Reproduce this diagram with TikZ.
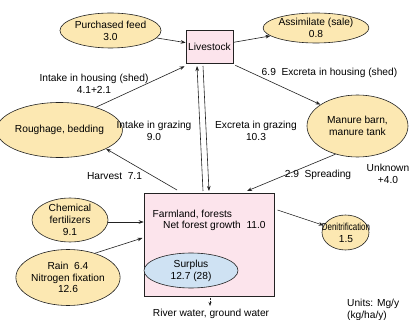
\documentclass[tikz,border=0pt]{standalone}
\usepackage{fontspec}
\setmainfont{Liberation Sans}
\usetikzlibrary{arrows.meta,shapes.geometric,calc}
\definecolor{ellfill}{HTML}{FCE8B2}
\definecolor{boxfill}{HTML}{FCE4EC}
\definecolor{surfill}{HTML}{CFE2F3}
\definecolor{edgecol}{HTML}{222222}
\begin{document}
\begin{tikzpicture}[x=1pt,y=-1pt,
  font=\fontsize{10.2}{11.8}\selectfont,
  ell/.style={ellipse,draw=edgecol,line width=0.6pt,fill=ellfill,inner sep=0pt,align=center},
  boxnode/.style={rectangle,draw=edgecol,line width=0.6pt,fill=boxfill,inner sep=0pt},
  lbl/.style={inner sep=0pt,align=center},
  arr/.style={draw=edgecol,line width=0.6pt,-{Stealth[length=5pt,width=3.6pt]}}]
\useasboundingbox (0,0) rectangle (412,320);
\fill[white] (0,0) rectangle (412,320);

% nodes
\node[boxnode,minimum width=47pt,minimum height=33pt] (livestock) at (209.5,46.5) {Livestock};
\node[ell,minimum width=85pt,minimum height=35pt] (feed) at (110.5,30.5) {Purchased feed\\3.0};
\node[ell,minimum width=88pt,minimum height=30pt] (assim) at (316,28) {Assimilate (sale)\\0.8};
\node[ell,minimum width=105pt,minimum height=55pt] (rough) at (59.5,130) {Roughage, bedding};
\node[ell,minimum width=101pt,minimum height=62pt] (manure) at (357.5,126) {Manure barn,\\manure tank};
\node[ell,minimum width=76pt,minimum height=38pt] (chem) at (70,220) {Chemical\\fertilizers\\9.1};
\node[ell,minimum width=100pt,minimum height=56pt] (rain) at (68,277.5) {Rain\ \ 6.4\\Nitrogen fixation\\12.6};
\node[ell,minimum width=47pt,minimum height=35pt] (denit) at (345.5,232.5) {};
\node[lbl] (denittxt) at (346,232.5) {\scalebox{0.78}[1]{Denitrification}\\1.5};
\node[boxnode,minimum width=130pt,minimum height=103pt] (farm) at (209,244.5) {};
\node[ell,fill=surfill,minimum width=94pt,minimum height=35pt] (surplus) at (191,270.5) {Surplus\\12.7 (28)};

% texts inside farmland
\node[lbl,anchor=west] (farmtxt) at (152.5,214) {Farmland, forests};
\node[lbl,anchor=west] (nettxt) at (163,226) {Net forest growth\ \ 11.0};

% labels
\node[lbl] (lhousing) at (94,84) {Intake in housing (shed)\\4.1+2.1};
\node[lbl] (lgrazing) at (154,131) {Intake in grazing\\9.0};
\node[lbl] (lexh) at (329.5,73) {6.9\ \ Excreta in housing (shed)};
\node[lbl] (lexg) at (256,131) {Excreta in grazing\\10.3};
\node[lbl] (lharv) at (114.5,176) {Harvest\ \ 7.1};
\node[lbl] (lspread) at (318,175) {2.9\ \ Spreading};
\node[lbl] (lunk) at (388,174) {Unknown\\+4.0};
\node[lbl] (lriver) at (211,314) {River water, ground water};
\node[lbl,align=left,anchor=north west] (lunits) at (347,299) {Units: Mg/y\\(kg/ha/y)};

% coordinates
\coordinate (gUp0) at (203,191);
\coordinate (gUp1) at (197,66);
\coordinate (gDn0) at (203,66);
\coordinate (gDn1) at (209,191);
\coordinate (harvS) at (177,190);
\coordinate (spreadE) at (247,191);
\coordinate (rainE) at (142.5,238);
\coordinate (denitS) at (277.5,210);
\coordinate (riverS) at (210,296);
\coordinate (riverE) at (210,306);

% connectors
\draw[arr] (feed) -- (livestock);
\draw[arr] (livestock) -- (assim);
\draw[arr] (rough.32) -- ([shift={(-1,3)}]livestock.south west);
\draw[arr] ([shift={(2,2)}]livestock.south east) -- (manure.150);
\draw[arr] (manure.-128) -- (spreadE);
\draw[arr] (harvS) -- (rough.-22);
\draw[arr] (gUp0) -- (gUp1);
\draw[arr] (gDn0) -- (gDn1);
\draw[arr] ([yshift=-2pt]chem.east) -- ([yshift=-2pt]farm.west |- chem.east);
\draw[arr] (rain.42) -- (rainE);
\draw[arr] (denitS) -- (denit.162);
\draw[draw=edgecol,line width=0.6pt,densely dotted,-{Stealth[length=4pt,width=3pt]}] (riverS) -- (riverE);
\end{tikzpicture}
\end{document}
